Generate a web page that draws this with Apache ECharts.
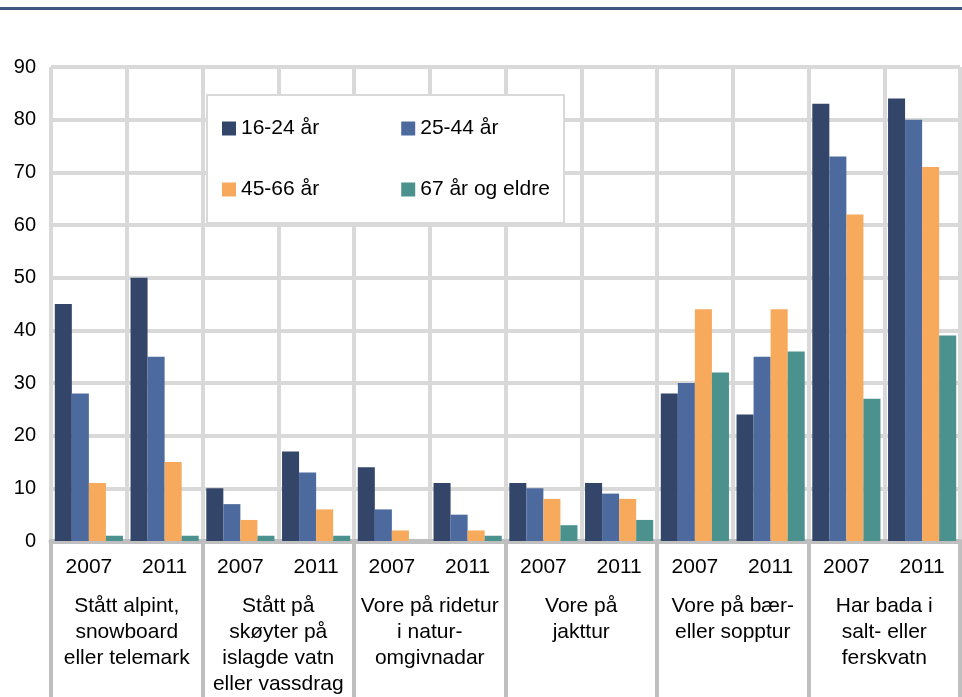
<!DOCTYPE html>
<html>
<head>
<meta charset="utf-8">
<script src="https://cdn.jsdelivr.net/npm/echarts@6/dist/echarts.min.js"></script>
<style>
html,body{margin:0;padding:0;background:#fff;}
#chart{width:962px;height:697px;}
</style>
</head>
<body>
<div id="chart"></div>
<script>
var years = ['2007','2011','2007','2011','2007','2011','2007','2011','2007','2011','2007','2011'];
var groups = ['Stått alpint,\nsnowboard\neller telemark','Stått på\nskøyter på\nislagde vatn\neller vassdrag','Vore på ridetur\ni natur-\nomgivnadar','Vore på\njakttur','Vore på bær-\neller sopptur','Har bada i\nsalt- eller\nferskvatn'];
var seriesNames = ['16-24 år','25-44 år','45-66 år','67 år og eldre'];
var age16_24 = [45,50,10,17,14,11,11,11,28,24,83,84];
var age25_44 = [28,35,7,13,6,5,10,9,30,35,73,80];
var age45_66 = [11,15,4,6,2,2,8,8,44,44,62,71];
var age67 = [1,1,1,1,0,1,3,4,32,36,27,39];
var yTicks = [0,10,20,30,40,50,60,70,80,90];

var colors = ['#33466a','#4d6a9e','#f7a95c','#4b928e'];
var values = [age16_24, age25_44, age45_66, age67];

var chart = echarts.init(document.getElementById('chart'), null, {renderer:'canvas'});
var font = 'Liberation Sans, Arial, sans-serif';
var option = {
  animation:false,
  color: colors,
  textStyle:{fontFamily:font},
  grid:{left:51, right:2, top:67, bottom:154, containLabel:false},
  graphic:[
    {type:'rect', shape:{x:0,y:7,width:962,height:3}, style:{fill:'#3f5680'}, z:10},
    {type:'rect', shape:{x:207,y:95,width:357,height:128}, style:{fill:'#fff', stroke:'#d9d9d9', lineWidth:2}, z:5}
  ],
  legend:[
    {data:[seriesNames[0],seriesNames[1]], left:217, top:113, itemWidth:14, itemHeight:14, itemGap:82, icon:'rect', z:10,
     textStyle:{fontSize:21,color:'#000',fontFamily:font}},
    {data:[seriesNames[2],seriesNames[3]], left:217, top:174, itemWidth:14, itemHeight:14, itemGap:82, icon:'rect', z:10,
     textStyle:{fontSize:21,color:'#000',fontFamily:font}}
  ],
  xAxis:[
    {type:'category', data:years, position:'bottom',
     axisLine:{show:true, lineStyle:{color:'#bfbfbf', width:5}},
     axisTick:{show:false},
     axisLabel:{interval:0, fontSize:21, color:'#000', margin:16, fontFamily:font},
     splitLine:{show:true, interval:0, lineStyle:{color:'#d9d9d9', width:4}}
    },
    {type:'category', data:groups, position:'bottom', offset:0,
     axisLine:{show:false},
     axisTick:{show:true, interval:0, length:160, lineStyle:{color:'#bfbfbf', width:4}},
     axisLabel:{interval:0, fontSize:21, color:'#000', margin:52, lineHeight:26, fontFamily:font, verticalAlign:'top'},
     splitLine:{show:false}
    }
  ],
  yAxis:{type:'value', min:yTicks[0], max:yTicks[yTicks.length-1], interval:10,
    axisLine:{show:false}, axisTick:{show:false},
    axisLabel:{fontSize:20, color:'#000', margin:15, fontFamily:font},
    splitLine:{show:true, lineStyle:{color:'#d9d9d9', width:4}}
  },
  series: seriesNames.map(function(n,i){
    return {name:n, type:'bar', data:values[i], xAxisIndex:0, barGap:'0%', barCategoryGap:'10%',
      itemStyle:{color:colors[i]}, z:2};
  })
};
chart.setOption(option);
</script>
</body>
</html>
